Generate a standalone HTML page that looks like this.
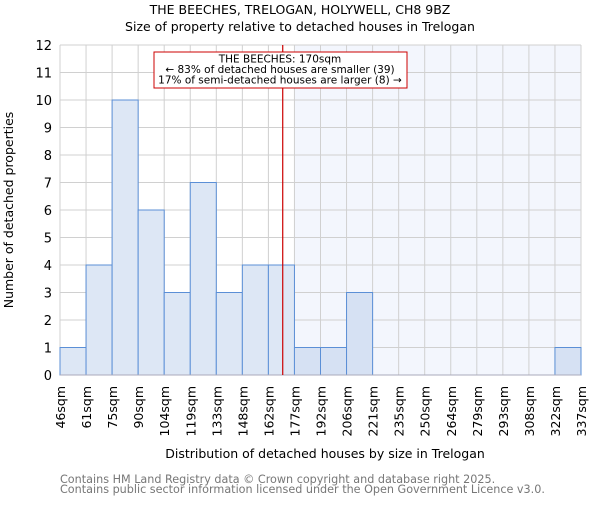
<!DOCTYPE html>
<html><head><meta charset="utf-8"><style>
body{margin:0;background:#fff}
svg text{font-family:"DejaVu Sans","Liberation Sans",sans-serif}
</style></head><body>
<svg id="c" width="600" height="500" xmlns="http://www.w3.org/2000/svg">
<text x="300" y="14" text-anchor="middle" font-size="12.5">THE BEECHES, TRELOGAN, HOLYWELL, CH8 9BZ</text>
<text x="300" y="31" text-anchor="middle" font-size="12.5">Size of property relative to detached houses in Trelogan</text>
<g id="plot"></g>
<text x="325" y="458" text-anchor="middle" font-size="12.5">Distribution of detached houses by size in Trelogan</text>
<text transform="translate(13,210) rotate(-90)" text-anchor="middle" font-size="12.5">Number of detached properties</text>
<text x="60" y="483" font-size="11.2" fill="#777">Contains HM Land Registry data © Crown copyright and database right 2025.</text>
<text x="60" y="493" font-size="11.2" fill="#777">Contains public sector information licensed under the Open Government Licence v3.0.</text>
</svg>
<script>
const labels=["46sqm","61sqm","75sqm","90sqm","104sqm","119sqm","133sqm","148sqm","162sqm","177sqm","192sqm","206sqm","221sqm","235sqm","250sqm","264sqm","279sqm","293sqm","308sqm","322sqm","337sqm"];
const counts=[1,4,10,6,3,7,3,4,4,1,1,3,0,0,0,0,0,0,0,1];
const yTicks=[0,1,2,3,4,5,6,7,8,9,10,11,12];
const propertyBin=8.55;
const X0=60,X1=581,Y0=375,Y1=45,YMAX=12;
const bw=(X1-X0)/counts.length;
const x=i=>X0+i*bw;
const y=v=>Y0-(Y0-Y1)*v/YMAX;
const NS="http://www.w3.org/2000/svg";
const g=document.getElementById('plot');
function mk(t,a){const e=document.createElementNS(NS,t);for(const k in a)e.setAttribute(k,a[k]);g.appendChild(e);return e;}
const lx=x(propertyBin);
const shade=mk('rect',{x:x(Math.ceil(propertyBin)),y:Y1,width:X1-x(Math.ceil(propertyBin)),height:Y0-Y1,fill:'#f3f6fd'});


for(let i=0;i<=counts.length;i++){const l=mk('line',{x1:x(i),x2:x(i),y1:Y1,y2:Y0,stroke:'#d0d0d0'});

}
yTicks.forEach(t=>{const l=mk('line',{x1:X0,x2:X1,y1:y(t),y2:y(t),stroke:'#d0d0d0'});


const tx=mk('text',{x:X0-8,y:y(t)+5,'text-anchor':'end','font-size':13});tx.textContent=t;

});
counts.forEach((v,i)=>{if(v<=0)return;const r=mk('rect',{x:x(i),y:y(v),width:bw,height:Y0-y(v),fill:i>=Math.ceil(propertyBin)?'#d6e1f3':'#dde7f5',stroke:'#5b8fd6','stroke-width':1});

});
labels.forEach((s,i)=>{const tx=mk('text',{transform:`translate(${x(i)+5},386) rotate(-90)`,'text-anchor':'end','font-size':12.5});tx.textContent=s;

});
const ax=mk('line',{x1:X0,x2:X1,y1:Y0,y2:Y0,stroke:'#aab'});


const rl=mk('line',{x1:lx,x2:lx,y1:Y1,y2:Y0,stroke:'#cc0000','stroke-width':1.2});


const box=mk('rect',{x:154,y:52,width:253,height:36,fill:'#fff',stroke:'#cc0000'});


["THE BEECHES: 170sqm","← 83% of detached houses are smaller (39)","17% of semi-detached houses are larger (8) →"].forEach((s,i)=>{const tx=mk('text',{x:280,y:62.5+i*10.5,'text-anchor':'middle','font-size':10.5});tx.textContent=s;

});
</script>
</body></html>
